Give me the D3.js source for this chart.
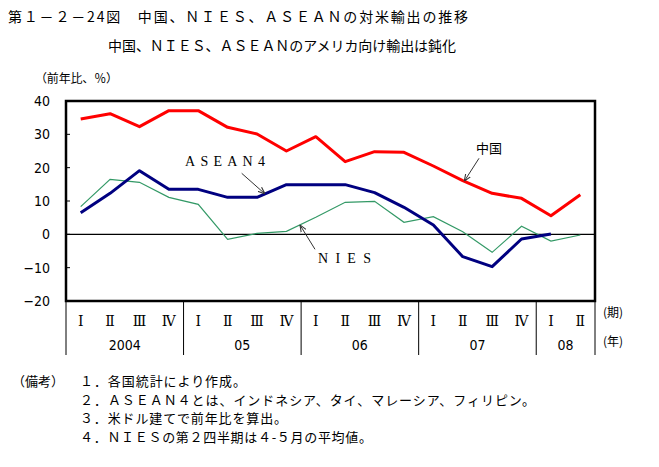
<!DOCTYPE html>
<html><head><meta charset="utf-8">
<script src="https://cdn.jsdelivr.net/npm/d3@7"></script>
<style>
body{margin:0;background:#fff;}
svg{display:block;font-family:"Noto Sans CJK JP","Noto Sans",sans-serif;}
</style></head>
<body>
<svg id="chart" width="659" height="467"></svg>
<script>
const quarters = ["Ⅰ","Ⅱ","Ⅲ","Ⅳ","Ⅰ","Ⅱ","Ⅲ","Ⅳ","Ⅰ","Ⅱ","Ⅲ","Ⅳ","Ⅰ","Ⅱ","Ⅲ","Ⅳ","Ⅰ","Ⅱ"];
const years = ["2004","05","06","07","08"];
const yearQuarters = [4,4,4,4,2];
const china = [34.6,36.2,32.3,37.1,37.1,32.1,30.1,25.0,29.3,21.8,24.8,24.6,20.5,16.1,12.3,10.8,5.6,11.9];
const asean4 = [6.5,12.3,19.1,13.5,13.5,11.1,11.1,14.9,14.9,14.9,12.5,8.1,2.8,-6.7,-9.7,-1.4,0.1,null];
const nies = [8.3,16.5,15.6,11.1,9.0,-1.5,0.3,0.9,5.1,9.6,9.9,3.6,5.3,0.8,-5.4,2.4,-2.0,-0.2];
const yTicks = [40,30,20,10,0,-10,-20];
const notes = ["１．各国統計により作成。","２．ＡＳＥＡＮ４とは、インドネシア、タイ、マレーシア、フィリピン。","３．米ドル建てで前年比を算出。","４．ＮＩＥＳの第２四半期は４-５月の平均値。"];

const svg = d3.select("#chart");
const L=66, R=595, T=101, B=301;
const x = d3.scaleBand().domain(d3.range(quarters.length)).range([L,R]).padding(0);
const xc = i => x(i) + x.bandwidth()/2;
const xi = v => L + x.bandwidth()*(v+0.5);
const y = d3.scaleLinear().domain([-20,40]).range([B,T]);
const CJK = "'Noto Sans CJK JP',sans-serif";
const COND = "'DejaVu Sans Condensed','Noto Sans CJK JP',sans-serif";
const SERIF = "'DejaVu Serif','Liberation Serif',serif";

// titles
svg.append("text").attr("x",8).attr("y",22).attr("font-size",14).attr("textLength",460).attr("lengthAdjust","spacing")
  .style("font-family",CJK).text("第１－２－24図　中国、ＮＩＥＳ、ＡＳＥＡＮの対米輸出の推移");
svg.append("text").attr("x",108).attr("y",51).attr("font-size",14).attr("textLength",348).attr("lengthAdjust","spacing")
  .style("font-family",CJK).text("中国、ＮＩＥＳ、ＡＳＥＡＮのアメリカ向け輸出は鈍化");
svg.append("text").attr("x",35).attr("y",83).attr("font-size",12).attr("textLength",83).attr("lengthAdjust","spacing")
  .style("font-family",CJK).text("（前年比、％）");

// y axis labels
const yAxis = d3.axisLeft(y).tickValues(yTicks).tickSize(0).tickPadding(16);
const ya = svg.append("g").attr("transform",`translate(${L},0)`).call(yAxis);
ya.select(".domain").remove();
ya.selectAll("text").attr("font-size",14).style("font-family",COND).attr("fill","#000");
// inner ticks
svg.append("g").selectAll("line").data(yTicks).join("line")
  .attr("x1",L).attr("x2",L+4).attr("y1",d=>y(d)).attr("y2",d=>y(d)).attr("stroke","#000").attr("stroke-width",1);

// zero line
svg.append("line").attr("x1",L).attr("x2",R).attr("y1",y(0)).attr("y2",y(0)).attr("stroke","#000").attr("stroke-width",1.2);

// lines
const line = d3.line().defined(d=>d!=null).x((d,i)=>xc(i)).y(d=>y(d));
svg.append("path").datum(nies).attr("d",line).attr("fill","none").attr("stroke","#339966").attr("stroke-width",1.2);
svg.append("path").datum(asean4).attr("d",line).attr("fill","none").attr("stroke","#000080").attr("stroke-width",3).attr("stroke-linejoin","round");
svg.append("path").datum(china).attr("d",line).attr("fill","none").attr("stroke","#ff0000").attr("stroke-width",3).attr("stroke-linejoin","round");

// frame
svg.append("rect").attr("x",L).attr("y",T).attr("width",R-L).attr("height",B-T).attr("fill","none").attr("stroke","#000").attr("stroke-width",2.5);

// x axis table
let acc=0; const bounds=[0];
yearQuarters.forEach(n=>{acc+=n;bounds.push(acc);});
svg.append("g").selectAll("line").data(bounds).join("line")
  .attr("x1",d=>L+d*x.bandwidth()).attr("x2",d=>L+d*x.bandwidth())
  .attr("y1",B).attr("y2",355).attr("stroke","#000").attr("stroke-width",1);
svg.append("g").selectAll("text").data(quarters).join("text")
  .attr("x",(d,i)=>xc(i)).attr("y",326).attr("text-anchor","middle").attr("font-size",14)
  .style("font-family",SERIF).text(d=>d);
svg.append("g").selectAll("text").data(years).join("text")
  .attr("x",(d,i)=>L+(bounds[i]+bounds[i+1])/2*x.bandwidth()).attr("y",350).attr("text-anchor","middle").attr("font-size",14)
  .style("font-family",COND).text(d=>d);
svg.append("text").attr("x",603).attr("y",317).attr("font-size",12).style("font-family",CJK).text("(期)");
svg.append("text").attr("x",603).attr("y",346).attr("font-size",12).style("font-family",CJK).text("(年)");

// annotations
const interp = (arr,v)=>{const i=Math.floor(v),t=v-i;return arr[i]+(arr[i+1]-arr[i])*t;};
const defs = svg.append("defs");
defs.append("marker").attr("id","ah").attr("viewBox","0 0 10 10").attr("refX",10).attr("refY",5)
  .attr("markerWidth",7).attr("markerHeight",7).attr("orient","auto")
  .append("path").attr("d","M0,1 L10,5 L0,9").attr("fill","none").attr("stroke","#333").attr("stroke-width",1.5);
const ann = [
  {label:"ＡＳＥＡＮ４", arr:asean4, v:6.27, tx:241.7, ty:173.3, lx:185, ly:166, len:80, serif:true},
  {label:"ＮＩＥＳ", arr:nies, v:7.46, tx:315, ty:249.3, lx:318, ly:263, len:53, serif:true},
  {label:"中国", arr:china, v:13.05, tx:479, ty:158.3, lx:476, ly:153, len:26, serif:false}
];
ann.forEach(a=>{
  svg.append("line").attr("x1",a.tx).attr("y1",a.ty).attr("x2",xi(a.v)).attr("y2",y(interp(a.arr,a.v)))
    .attr("stroke","#333").attr("stroke-width",1).attr("marker-end","url(#ah)");
  svg.append("text").attr("x",a.lx).attr("y",a.ly).attr("font-size",a.serif?14:13)
    .style("font-family",a.serif?"'Liberation Serif',serif":CJK)
    .attr("textLength",a.len).attr("lengthAdjust","spacing")
    .text(a.serif?a.label.replace(/[Ａ-Ｚ０-９]/g,c=>String.fromCharCode(c.charCodeAt(0)-0xFEE0)):a.label);
});

// notes
svg.append("text").attr("x",12).attr("y",386).attr("font-size",13).style("font-family",CJK).text("（備考）");
const noteLen=[166,455,207,292];
svg.append("g").selectAll("text").data(notes).join("text")
  .attr("x",80).attr("y",(d,i)=>386+i*18.5).attr("font-size",13).style("font-family",CJK)
  .attr("textLength",(d,i)=>noteLen[i]).attr("lengthAdjust","spacing").text(d=>d);
</script>
</body></html>
